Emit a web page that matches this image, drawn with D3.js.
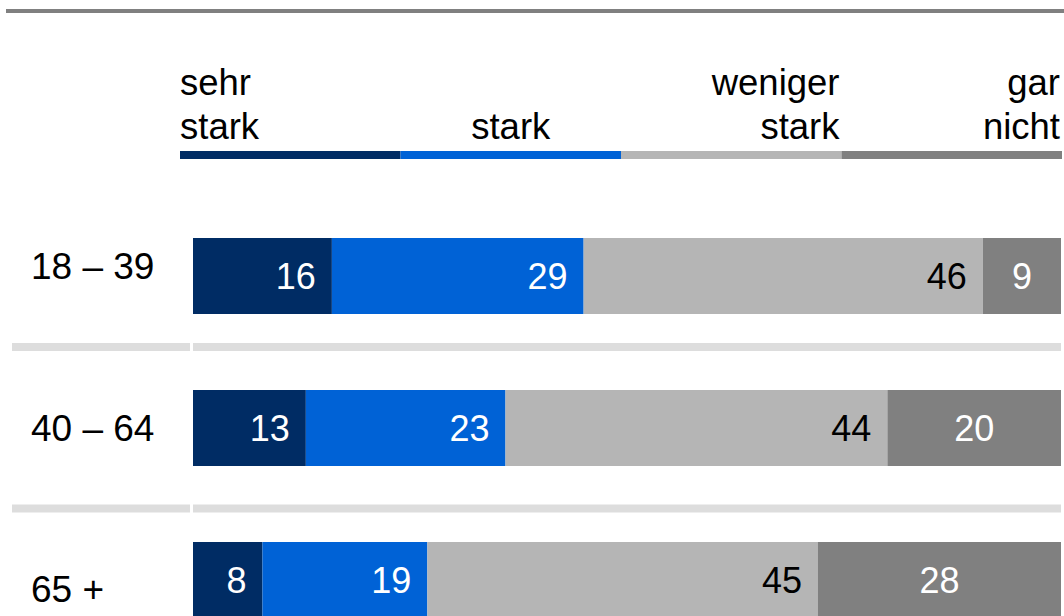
<!DOCTYPE html>
<html>
<head>
<meta charset="utf-8">
<script src="https://cdn.jsdelivr.net/npm/d3@7"></script>
<style>
  html, body { margin: 0; padding: 0; background: #ffffff; }
  svg { display: block; }
  text { font-family: "Liberation Sans", Arial, sans-serif; }
</style>
</head>
<body>
<svg id="chart" width="1064" height="616"></svg>
<script>
// ---- data ----
const categories = ["18 – 39", "40 – 64", "65 +"];
const seriesNames = ["sehr stark", "stark", "weniger stark", "gar nicht"];
const legendLines = [["sehr", "stark"], ["stark"], ["weniger", "stark"], ["gar", "nicht"]];
const sehrStark = [16, 13, 8];
const stark = [29, 23, 19];
const wenigerStark = [46, 44, 45];
const garNicht = [9, 20, 28];

const colors = ["#002c64", "#0062d6", "#b5b5b5", "#808080"];
const textColors = ["#ffffff", "#ffffff", "#000000", "#ffffff"];

const W = 1064, H = 616;
const svg = d3.select("#chart");

// top rule
svg.append("rect").attr("x", 6).attr("y", 9).attr("width", W - 6).attr("height", 4).attr("fill", "#808080");

// legend
const legendX = d3.scaleBand().domain(seriesNames).range([180, 1062]).padding(0);
const lg = svg.append("g");
seriesNames.forEach((s, i) => {
  const x0 = legendX(s), bw = legendX.bandwidth();
  lg.append("rect").attr("x", x0).attr("y", 151).attr("width", bw).attr("height", 8).attr("fill", colors[i]);
  let anchor, tx;
  if (i === 0) { anchor = "start"; tx = x0; }
  else if (i === 1) { anchor = "middle"; tx = x0 + bw / 2; }
  else { anchor = "end"; tx = x0 + bw - 2; }
  const lines = legendLines[i];
  const baseLast = 139;
  lines.forEach((ln, j) => {
    lg.append("text")
      .attr("x", tx)
      .attr("y", baseLast - (lines.length - 1 - j) * 44)
      .attr("text-anchor", anchor)
      .attr("font-size", 36.5)
      .attr("fill", "#000")
      .text(ln);
  });
});

// scales
const x = d3.scaleLinear().domain([0, 100]).range([193, 1061]);
const y = d3.scaleBand().domain(categories).range([200, 656]).paddingInner(0.5).paddingOuter(0.25);
const labelY = d3.scalePoint().domain(categories).range([279, 602]);

const rows = categories.map((c, i) => ({ cat: c, vals: [sehrStark[i], stark[i], wenigerStark[i], garNicht[i]] }));

// separators
rows.slice(0, -1).forEach(r => {
  const sy = labelY(r.cat) + 64;
  svg.append("rect").attr("x", 12).attr("y", sy).attr("width", 178).attr("height", 8).attr("fill", "#dddddd");
  svg.append("rect").attr("x", x(0)).attr("y", sy).attr("width", x(100) - x(0)).attr("height", 8).attr("fill", "#dddddd");
});

// category labels
svg.append("g").selectAll("text").data(rows).join("text")
  .attr("x", 31)
  .attr("y", d => labelY(d.cat))
  .attr("font-size", 37)
  .attr("fill", "#000")
  .text(d => d.cat);

// bars
rows.forEach(r => {
  let cum = 0;
  const g = svg.append("g");
  r.vals.forEach((v, i) => {
    const x0 = x(cum), x1 = x(cum + v);
    cum += v;
    g.append("rect")
      .attr("x", x0).attr("y", y(r.cat))
      .attr("width", x1 - x0).attr("height", y.bandwidth())
      .attr("fill", colors[i]);
    const last = i === r.vals.length - 1;
    g.append("text")
      .attr("x", last ? (x0 + x1) / 2 : x1 - 16)
      .attr("y", y(r.cat) + y.bandwidth() / 2 + 13)
      .attr("text-anchor", last ? "middle" : "end")
      .attr("font-size", 36)
      .attr("fill", textColors[i])
      .text(v);
  });
});
</script>
</body>
</html>
